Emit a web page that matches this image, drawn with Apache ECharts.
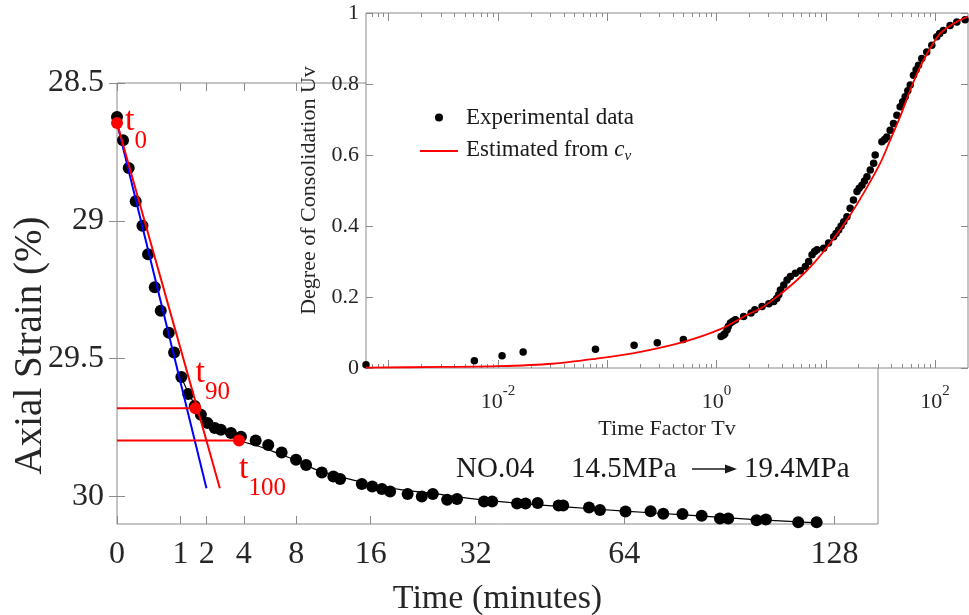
<!DOCTYPE html>
<html><head><meta charset="utf-8">
<script src="https://cdn.jsdelivr.net/npm/echarts@6/dist/echarts.min.js"></script>
<style>html,body{margin:0;padding:0;background:#fff}#c{width:969px;height:615px}</style>
</head><body><div id="c"></div>
<script>
// ---------- Main plot data (Time in minutes, axial strain in %) ----------
const mainT = [0,0.009,0.034,0.087,0.161,0.24,0.355,0.476,0.667,0.81,1.03,1.26,1.5,1.75,2.04,2.38,2.68,3.23,3.82,4.78,5.69,6.74,7.97,8.89,10.43,11.64,12.38,14.9,16.2,17.45,18.55,21.0,23.1,24.8,27.1,28.75,33.5,35.0,39.8,41.5,44.0,48.5,49.5,55.4,58.0,64.3,70.8,74.2,79.5,85.0,90.4,92.9,101.7,104.7,115.4,121.7];
const mainStrain = [28.623,28.708,28.808,28.929,29.018,29.121,29.241,29.326,29.406,29.478,29.567,29.628,29.672,29.704,29.734,29.752,29.758,29.77,29.783,29.797,29.813,29.841,29.867,29.886,29.913,29.928,29.937,29.955,29.964,29.973,29.982,29.991,30.0,29.991,30.012,30.009,30.018,30.018,30.026,30.026,30.024,30.033,30.033,30.04,30.049,30.055,30.054,30.063,30.064,30.07,30.08,30.08,30.086,30.084,30.094,30.094];
const fitT = [1.0,1.25,1.53,2.0,2.6,3.2,3.7,5,6.5,8,10,12.5,16,20,25,32,40,50,64,80,100,122];
const fitStrain = [29.56,29.62,29.67,29.72,29.76,29.782,29.797,29.818,29.845,29.87,29.905,29.93,29.955,29.975,29.99,30.01,30.025,30.038,30.053,30.067,30.083,30.096];
const blueT = [0, 1.99];
const blueStrain = [28.645, 29.97];
const redT = [0, 2.63];
const redStrain = [28.645, 29.97];
const keyNames = ['0','90','100'];
const keyT = [0, 1.53, 3.70];
const keyStrain = [28.645, 29.68, 29.797];
const timeTicks = [0,1,2,4,8,16,32,64,128];
const strainTicks = [28.5,29,29.5,30];

// ---------- Inset data (Time factor Tv, degree of consolidation Uv) ----------
const expTv = [0.00062,0.00608,0.0109,0.0170,0.078,0.176,0.287,0.497,1.10,1.16,1.19,1.25,1.28,1.34,1.41,1.49,1.77,2.07,2.24,2.61,3.01,3.34,3.55,3.71,3.84,4.12,4.42,4.74,5.26,5.85,6.50,6.97,7.48,7.9,8.30,9.55,10.6,11.8,12.4,13.1,13.8,14.6,15.6,16.7,17.9,19.3,20.2,21.4,22.6,23.8,25.5,27.4,28.3,32.6,34.5,36.2,38.8,41.6,44.7,47.9,50.5,53.2,56.2,59.2,63.4,67,70.5,75.5,83.9,93.3,103.5,110,119,137,158,188];
const expU = [0.009,0.0205,0.0346,0.045,0.053,0.064,0.071,0.080,0.089,0.093,0.0965,0.108,0.117,0.127,0.132,0.136,0.145,0.155,0.164,0.173,0.181,0.187,0.196,0.206,0.220,0.234,0.248,0.258,0.267,0.274,0.286,0.300,0.319,0.328,0.333,0.337,0.352,0.370,0.379,0.389,0.40,0.412,0.426,0.450,0.473,0.497,0.506,0.515,0.527,0.539,0.558,0.577,0.600,0.637,0.644,0.651,0.670,0.689,0.712,0.736,0.750,0.764,0.781,0.797,0.825,0.840,0.853,0.872,0.890,0.909,0.933,0.942,0.951,0.965,0.975,0.981];
const estTv = [0.00062,0.00316,0.01,0.0316,0.078,0.176,0.492,1.10,1.91,2.51,3.58,5.46,7.74,11.0,15.6,22.1,31.5,38.8,47.9,59.2,72.9,89.9,111,147,200];
const estU = [0.001,0.003,0.005,0.012,0.026,0.042,0.073,0.11,0.15,0.167,0.201,0.248,0.295,0.352,0.417,0.492,0.577,0.642,0.708,0.783,0.848,0.900,0.942,0.970,0.99];
const tvMajorTicks = [0.001,0.01,0.1,1,10,100];
const tvLabelTicks = [0.01,1,100];

// ---------- helpers ----------
const F = '"Liberation Serif","Times New Roman",serif';
const sq = v => Math.sqrt(v);
const pairs = (xs, ys, fx) => xs.map((x, i) => [fx ? fx(x) : x, ys[i]]);
const tvMinorTicks = [];
for (let e = -4; e <= 2; e++) for (let k = 2; k <= 9; k++) {
  const v = k * Math.pow(10, e);
  if (v > 0.00062 && v < 200) tvMinorTicks.push(v);
}
const AX = '#8a8a8a', TX = '#262626';

const chart = echarts.init(document.getElementById('c'));
const insetX = (pos, ticks, len, labels) => Object.assign({
  gridIndex: 1, type: 'log', logBase: 10, min: 0.00062, max: 200, position: pos, z: 11,
  axisLine: {show: false}, splitLine: {show: false},
  axisTick: {inside: true, length: len, customValues: ticks, lineStyle: {color: AX}},
  axisLabel: labels ? {
    customValues: tvLabelTicks, margin: 16, color: TX, fontFamily: F,
    formatter: v => '{b|10}{p|' + Math.round(Math.log10(v)) + '}',
    rich: {b: {fontSize: 22, fontFamily: F, color: TX, verticalAlign: 'top', padding: [7, 0, 0, 0]},
           p: {fontSize: 15, fontFamily: F, color: TX, verticalAlign: 'top'}}
  } : {show: false}
}, labels ? {name: 'Time Factor Tv', nameLocation: 'middle', nameGap: 47,
  nameTextStyle: {fontSize: 22, fontFamily: F, color: TX}} : {});

const option = {
  animation: false,
  backgroundColor: '#fff',
  grid: [
    {left: 117, top: 83, width: 761, height: 441, show: true, borderColor: AX, borderWidth: 1, backgroundColor: 'transparent', z: 0, outerBoundsMode: 'none', containLabel: false},
    {left: 366, top: 13, width: 602, height: 355, show: true, borderColor: AX, borderWidth: 1, backgroundColor: '#fff', z: 10, outerBoundsMode: 'none', containLabel: false}
  ],
  xAxis: [
    {gridIndex: 0, type: 'value', min: 0, max: 12, position: 'bottom',
     axisLine: {show: false}, splitLine: {show: false},
     axisTick: {inside: true, length: 8, customValues: timeTicks.map(sq), lineStyle: {color: AX}},
     axisLabel: {customValues: timeTicks.map(sq), formatter: v => String(Math.round(v * v)), fontSize: 32, fontFamily: F, color: TX, margin: 15},
     name: 'Time (minutes)', nameLocation: 'middle', nameGap: 58,
     nameTextStyle: {fontSize: 34, fontFamily: F, color: TX}},
    {gridIndex: 0, type: 'value', min: 0, max: 12, position: 'top',
     axisLine: {show: false}, splitLine: {show: false}, axisLabel: {show: false},
     axisTick: {inside: true, length: 8, customValues: timeTicks.map(sq), lineStyle: {color: AX}}},
    insetX('bottom', tvMajorTicks, 8, true),
    insetX('bottom', tvMinorTicks, 4, false),
    insetX('top', tvMajorTicks, 8, false),
    insetX('top', tvMinorTicks, 4, false)
  ],
  yAxis: [
    {gridIndex: 0, type: 'value', min: 28.5, max: 30.1, inverse: true, position: 'left',
     axisLine: {show: false}, splitLine: {show: false},
     axisTick: {inside: true, length: 8, customValues: strainTicks, lineStyle: {color: AX}},
     axisLabel: {customValues: strainTicks, formatter: v => String(v), fontSize: 32, fontFamily: F, color: TX, margin: 13},
     name: 'Axial Strain (%)', nameLocation: 'middle', nameGap: 67, nameRotate: 90, nameMoveOverlap: false,
     nameTextStyle: {fontSize: 39, fontFamily: F, color: TX, padding: [0, 84, 0, 0]}},
    {gridIndex: 0, type: 'value', min: 28.5, max: 30.1, inverse: true, position: 'right',
     axisLine: {show: false}, splitLine: {show: false}, axisLabel: {show: false},
     axisTick: {inside: true, length: 8, customValues: strainTicks, lineStyle: {color: AX}}},
    {gridIndex: 1, type: 'value', min: 0, max: 1, interval: 0.2, position: 'left', z: 11,
     axisLine: {show: false}, splitLine: {show: false},
     axisTick: {inside: true, length: 7, lineStyle: {color: AX}},
     axisLabel: {fontSize: 22, fontFamily: F, color: TX, margin: 7},
     name: 'Degree of Consolidation Uv', nameLocation: 'middle', nameGap: 40, nameRotate: 90,
     nameTextStyle: {fontSize: 22, fontFamily: F, color: TX}},
    {gridIndex: 1, type: 'value', min: 0, max: 1, interval: 0.2, position: 'right', z: 11,
     axisLine: {show: false}, splitLine: {show: false}, axisLabel: {show: false},
     axisTick: {inside: true, length: 7, lineStyle: {color: AX}}}
  ],
  legend: {
    left: 415, top: 101, orient: 'vertical', itemWidth: 38, itemHeight: 8, itemGap: 9, z: 20,
    data: [{name: 'Experimental data', icon: 'circle'},
           {name: 'Estimated from cv', icon: 'path://M0,0 L38,0 L38,2 L0,2 Z'}],
    formatter: n => n === 'Experimental data' ? '{a|Experimental data}' : '{a|Estimated from }{c|c}{v|v}',
    textStyle: {fontFamily: F, fontSize: 23, color: '#1a1a1a',
      rich: {a: {fontFamily: F, fontSize: 23, color: '#1a1a1a', verticalAlign: 'top', padding: [0, 0, 0, 3]},
             c: {fontFamily: F, fontSize: 23, color: '#1a1a1a', fontStyle: 'italic', verticalAlign: 'top'},
             v: {fontFamily: F, fontSize: 15, color: '#1a1a1a', fontStyle: 'italic', verticalAlign: 'top', padding: [11, 0, 0, 0]}}}
  },
  series: [
    {type: 'scatter', name: 'data', xAxisIndex: 0, yAxisIndex: 0, symbolSize: 12, z: 2,
     itemStyle: {color: '#000', opacity: 1}, data: pairs(mainT, mainStrain, sq)},
    {type: 'line', name: 'fit', xAxisIndex: 0, yAxisIndex: 0, smooth: 0.3, symbol: 'none', z: 3,
     lineStyle: {color: '#000', width: 1.2}, data: pairs(fitT, fitStrain, sq)},
    {type: 'line', name: 'blue', xAxisIndex: 0, yAxisIndex: 0, symbol: 'none', z: 3,
     lineStyle: {color: '#0000ff', width: 2}, data: pairs(blueT, blueStrain, sq)},
    {type: 'line', name: 'red', xAxisIndex: 0, yAxisIndex: 0, symbol: 'none', z: 3,
     lineStyle: {color: '#ff0000', width: 2}, data: pairs(redT, redStrain, sq)},
    {type: 'line', name: 'h90', xAxisIndex: 0, yAxisIndex: 0, symbol: 'none', z: 3,
     lineStyle: {color: '#ff0000', width: 2}, data: [[0, keyStrain[1]], [sq(keyT[1]), keyStrain[1]]]},
    {type: 'line', name: 'h100', xAxisIndex: 0, yAxisIndex: 0, symbol: 'none', z: 3,
     lineStyle: {color: '#ff0000', width: 2}, data: [[0, keyStrain[2]], [sq(keyT[2]), keyStrain[2]]]},
    {type: 'scatter', name: 'key', xAxisIndex: 0, yAxisIndex: 0, symbolSize: 12, z: 4,
     itemStyle: {color: '#ff0000', opacity: 1},
     data: keyT.map((t, i) => ({
       value: [sq(t), keyStrain[i]],
       label: {show: true, position: 'right', distance: 0,
         offset: [[2, 6], [-6, -28], [-6, 36]][i],
         formatter: '{t|t}{s|' + keyNames[i] + '}',
         rich: {t: {fontFamily: F, fontSize: 34, color: '#ff0000', verticalAlign: 'top'},
                s: {fontFamily: F, fontSize: 25, color: '#ff0000', verticalAlign: 'top', padding: [24, 0, 0, 0]}}}
     }))},
    {type: 'scatter', name: 'Experimental data', xAxisIndex: 2, yAxisIndex: 2, symbolSize: 7.5, z: 12,
     itemStyle: {color: '#000', opacity: 1}, data: pairs(expTv, expU)},
    {type: 'line', name: 'Estimated from cv', xAxisIndex: 2, yAxisIndex: 2, symbol: 'none', smooth: 0.3, z: 13,
     lineStyle: {color: '#ff0000', width: 1.8}, itemStyle: {color: '#ff0000'}, data: pairs(estTv, estU)}
  ],
  graphic: [
    {type: 'text', left: 456, top: 455, z: 20, style: {text: 'NO.04', font: '29px ' + F, fill: '#1a1a1a'}},
    {type: 'text', left: 571, top: 455, z: 20, style: {text: '14.5MPa', font: '29px ' + F, fill: '#1a1a1a'}},
    {type: 'line', z: 20, shape: {x1: 692, y1: 469, x2: 727, y2: 469}, style: {stroke: '#1a1a1a', lineWidth: 1.6}},
    {type: 'polygon', z: 20, shape: {points: [[725, 464.5], [737, 469], [725, 473.5]]}, style: {fill: '#1a1a1a'}},
    {type: 'text', left: 744, top: 455, z: 20, style: {text: '19.4MPa', font: '29px ' + F, fill: '#1a1a1a'}}
  ]
};
chart.setOption(option);
</script>
</body></html>
